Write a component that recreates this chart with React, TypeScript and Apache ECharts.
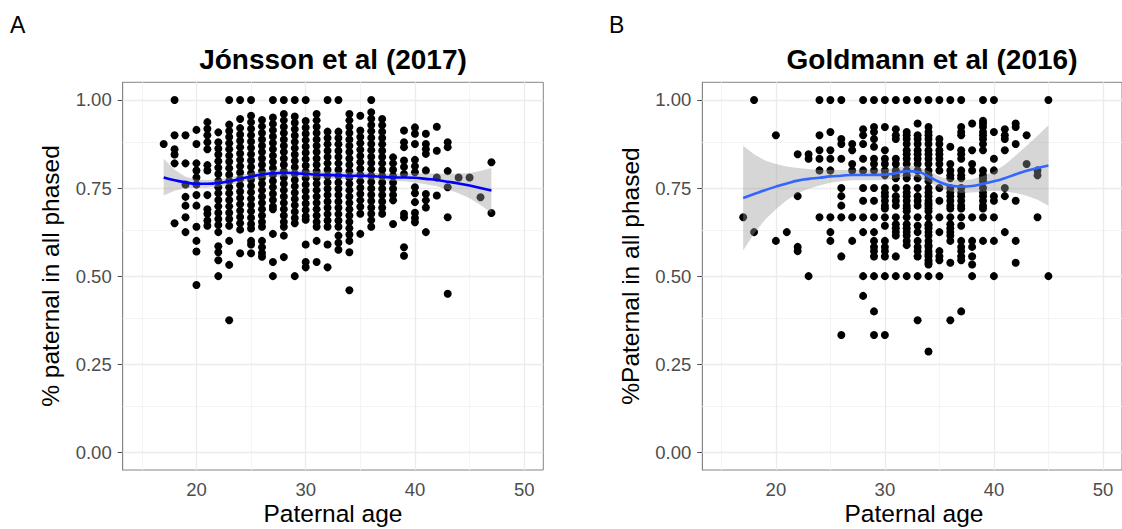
import React, { useEffect, useRef } from 'react';
import * as echarts from 'echarts';

const FONT = '"Liberation Sans", Arial, Helvetica, sans-serif';

// ---- axis ticks / grid ----
const xTickValues = [20, 30, 40, 50];
const xMinorGrid = [15, 25, 35, 45];
const yTickValues = [0, 0.25, 0.5, 0.75, 1];
const yMinorGrid = [0.125, 0.375, 0.625, 0.875];

const panelTitles = ['Jónsson et al (2017)', 'Goldmann et al (2016)'];
const panelLetters = ['A', 'B'];
const xAxisTitle = 'Paternal age';
const yAxisTitles = ['% paternal in all phased', '%Paternal in all phased'];

// ---- Panel A: Jónsson et al (2017) ----
const jonssonAges = [17, 18, 19, 20, 21, 22, 23, 24, 25, 26, 27, 28, 29, 30, 31, 32, 33, 34, 35, 36, 37, 38, 39, 40, 41, 42, 43, 44, 45, 46, 47];
const jonssonValues: number[][] = [
  [0.875],
  [1.0, 0.9, 0.86, 0.845, 0.82, 0.65],
  [0.9, 0.82, 0.76, 0.725, 0.7, 0.667, 0.625],
  [0.915, 0.875, 0.82, 0.8, 0.78, 0.76, 0.73, 0.7, 0.64, 0.6, 0.57, 0.475],
  [0.937, 0.918, 0.9, 0.88, 0.86, 0.815, 0.8, 0.73, 0.69, 0.677, 0.658, 0.643],
  [0.908, 0.88, 0.862, 0.845, 0.826, 0.808, 0.79, 0.77, 0.752, 0.735, 0.716, 0.698, 0.68, 0.662, 0.645, 0.625, 0.585, 0.568, 0.545, 0.5],
  [1.0, 0.93, 0.912, 0.895, 0.877, 0.86, 0.842, 0.825, 0.806, 0.788, 0.77, 0.752, 0.735, 0.716, 0.698, 0.68, 0.662, 0.643, 0.6, 0.532, 0.375],
  [1.0, 0.946, 0.92, 0.902, 0.884, 0.866, 0.848, 0.83, 0.812, 0.794, 0.776, 0.758, 0.74, 0.722, 0.704, 0.686, 0.668, 0.65, 0.632, 0.565],
  [1.0, 0.955, 0.937, 0.918, 0.9, 0.882, 0.864, 0.846, 0.828, 0.81, 0.792, 0.774, 0.756, 0.738, 0.72, 0.702, 0.684, 0.666, 0.648, 0.635, 0.6, 0.59, 0.565],
  [0.943, 0.925, 0.906, 0.888, 0.87, 0.852, 0.834, 0.816, 0.798, 0.78, 0.762, 0.744, 0.726, 0.708, 0.69, 0.672, 0.654, 0.64, 0.6, 0.582, 0.566, 0.555],
  [1.0, 0.95, 0.932, 0.914, 0.896, 0.878, 0.86, 0.842, 0.824, 0.806, 0.788, 0.77, 0.752, 0.734, 0.716, 0.698, 0.69, 0.62, 0.54, 0.5],
  [1.0, 0.96, 0.942, 0.924, 0.906, 0.888, 0.87, 0.852, 0.834, 0.816, 0.798, 0.78, 0.762, 0.744, 0.726, 0.708, 0.69, 0.672, 0.654, 0.64, 0.615, 0.554],
  [1.0, 0.953, 0.935, 0.917, 0.899, 0.881, 0.863, 0.845, 0.827, 0.809, 0.791, 0.773, 0.755, 0.737, 0.719, 0.701, 0.683, 0.665, 0.65, 0.5],
  [1.0, 0.94, 0.922, 0.904, 0.886, 0.868, 0.85, 0.832, 0.814, 0.796, 0.778, 0.76, 0.742, 0.724, 0.706, 0.688, 0.67, 0.66, 0.59, 0.54, 0.525],
  [0.96, 0.942, 0.924, 0.906, 0.888, 0.87, 0.852, 0.834, 0.816, 0.798, 0.78, 0.762, 0.744, 0.726, 0.708, 0.69, 0.672, 0.654, 0.64, 0.6, 0.54],
  [1.0, 0.91, 0.892, 0.874, 0.856, 0.838, 0.82, 0.802, 0.784, 0.766, 0.748, 0.73, 0.712, 0.694, 0.676, 0.658, 0.64, 0.59, 0.525],
  [1.0, 0.91, 0.892, 0.874, 0.856, 0.838, 0.82, 0.802, 0.784, 0.766, 0.748, 0.73, 0.712, 0.694, 0.676, 0.658, 0.64, 0.615, 0.595, 0.575],
  [0.96, 0.942, 0.924, 0.906, 0.888, 0.87, 0.852, 0.834, 0.816, 0.798, 0.78, 0.762, 0.744, 0.726, 0.708, 0.69, 0.672, 0.654, 0.636, 0.618, 0.6, 0.568, 0.46],
  [0.955, 0.913, 0.895, 0.877, 0.859, 0.841, 0.823, 0.805, 0.787, 0.769, 0.751, 0.733, 0.715, 0.697, 0.677, 0.62],
  [1.0, 0.965, 0.947, 0.929, 0.911, 0.893, 0.875, 0.857, 0.839, 0.821, 0.803, 0.785, 0.767, 0.749, 0.731, 0.713, 0.695, 0.677, 0.659, 0.64],
  [0.946, 0.928, 0.91, 0.892, 0.874, 0.856, 0.838, 0.82, 0.802, 0.784, 0.766, 0.748, 0.73, 0.712, 0.694, 0.677],
  [0.837, 0.82, 0.802, 0.784, 0.766, 0.748, 0.73, 0.715, 0.648],
  [0.913, 0.88, 0.866, 0.828, 0.81, 0.79, 0.677, 0.667, 0.582, 0.558],
  [0.922, 0.904, 0.875, 0.83, 0.812, 0.795, 0.752, 0.735, 0.71, 0.68, 0.665, 0.653],
  [0.904, 0.875, 0.86, 0.847, 0.8, 0.733, 0.715, 0.695, 0.625],
  [0.924, 0.856, 0.78, 0.729],
  [0.88, 0.866, 0.798, 0.752, 0.667, 0.45],
  [0.78],
  [0.78],
  [0.724],
  [0.823, 0.679],
];
const jonssonFitAges = [17, 18, 19, 20, 21, 22, 23, 24, 25, 26, 27, 28, 29, 30, 31, 32, 33, 34, 35, 36, 37, 38, 39, 40, 41, 42, 43, 44, 45, 46, 47];
const jonssonFit = [0.78, 0.772, 0.766, 0.762, 0.762, 0.764, 0.769, 0.776, 0.783, 0.788, 0.792, 0.793, 0.792, 0.79, 0.788, 0.787, 0.786, 0.785, 0.785, 0.784, 0.782, 0.78, 0.78, 0.779, 0.776, 0.773, 0.768, 0.763, 0.757, 0.75, 0.743];
const jonssonLo = [0.729, 0.742, 0.75, 0.75, 0.751, 0.754, 0.759, 0.766, 0.773, 0.778, 0.782, 0.783, 0.782, 0.78, 0.778, 0.777, 0.776, 0.775, 0.775, 0.774, 0.772, 0.77, 0.769, 0.766, 0.761, 0.755, 0.746, 0.735, 0.721, 0.702, 0.679];
const jonssonHi = [0.833, 0.802, 0.782, 0.774, 0.773, 0.774, 0.779, 0.786, 0.793, 0.798, 0.802, 0.803, 0.802, 0.8, 0.798, 0.797, 0.796, 0.795, 0.795, 0.794, 0.792, 0.79, 0.791, 0.792, 0.791, 0.791, 0.79, 0.791, 0.793, 0.798, 0.807];

// ---- Panel B: Goldmann et al (2016) ----
const goldmannAges = [17, 18, 20, 21, 22, 23, 24, 25, 26, 27, 28, 29, 30, 31, 32, 33, 34, 35, 36, 37, 38, 39, 40, 41, 42, 43, 44, 45];
const goldmannValues: number[][] = [
  [0.667],
  [1.0, 0.625],
  [0.9, 0.6],
  [0.625],
  [0.846, 0.727, 0.583, 0.571],
  [0.846, 0.833, 0.5],
  [1.0, 0.9, 0.857, 0.833, 0.8, 0.667],
  [1.0, 0.909, 0.857, 0.833, 0.8, 0.667, 0.625, 0.6],
  [1.0, 0.889, 0.875, 0.833, 0.75, 0.727, 0.7, 0.667, 0.556, 0.333],
  [0.875, 0.857, 0.818, 0.8, 0.667, 0.6],
  [1.0, 0.917, 0.9, 0.875, 0.833, 0.8, 0.75, 0.714, 0.667, 0.625, 0.5, 0.444],
  [1.0, 0.923, 0.909, 0.889, 0.867, 0.833, 0.818, 0.8, 0.75, 0.714, 0.667, 0.625, 0.6, 0.583, 0.571, 0.556, 0.5, 0.4, 0.333],
  [1.0, 0.923, 0.857, 0.833, 0.818, 0.8, 0.786, 0.75, 0.737, 0.727, 0.714, 0.7, 0.692, 0.667, 0.643, 0.6, 0.583, 0.571, 0.556, 0.5, 0.333],
  [1.0, 0.917, 0.9, 0.889, 0.833, 0.818, 0.8, 0.786, 0.778, 0.75, 0.727, 0.714, 0.7, 0.667, 0.647, 0.636, 0.625, 0.615, 0.556, 0.5],
  [1.0, 0.909, 0.9, 0.889, 0.875, 0.857, 0.846, 0.833, 0.818, 0.8, 0.786, 0.778, 0.75, 0.737, 0.727, 0.714, 0.7, 0.692, 0.684, 0.667, 0.647, 0.636, 0.625, 0.615, 0.6, 0.588, 0.5],
  [1.0, 0.933, 0.9, 0.889, 0.875, 0.857, 0.846, 0.833, 0.818, 0.8, 0.778, 0.75, 0.727, 0.714, 0.7, 0.667, 0.643, 0.625, 0.6, 0.583, 0.571, 0.556, 0.5, 0.375],
  [1.0, 0.923, 0.909, 0.9, 0.889, 0.875, 0.857, 0.846, 0.833, 0.818, 0.8, 0.786, 0.778, 0.769, 0.75, 0.737, 0.727, 0.714, 0.706, 0.7, 0.692, 0.684, 0.667, 0.647, 0.643, 0.636, 0.625, 0.615, 0.6, 0.588, 0.583, 0.571, 0.563, 0.556, 0.545, 0.538, 0.533, 0.5, 0.286],
  [1.0, 0.889, 0.875, 0.857, 0.846, 0.833, 0.818, 0.8, 0.75, 0.714, 0.667, 0.625, 0.571, 0.556, 0.545, 0.5],
  [1.0, 0.867, 0.818, 0.8, 0.786, 0.778, 0.75, 0.737, 0.727, 0.714, 0.7, 0.692, 0.667, 0.647, 0.636, 0.625, 0.615, 0.6, 0.538, 0.375],
  [1.0, 0.923, 0.909, 0.9, 0.857, 0.846, 0.833, 0.8, 0.786, 0.778, 0.75, 0.737, 0.727, 0.714, 0.7, 0.692, 0.667, 0.643, 0.6, 0.583, 0.571, 0.556, 0.545, 0.4],
  [0.933, 0.857, 0.818, 0.8, 0.667, 0.6, 0.583, 0.556, 0.533, 0.5],
  [1.0, 0.941, 0.933, 0.923, 0.909, 0.9, 0.889, 0.875, 0.857, 0.8, 0.786, 0.778, 0.769, 0.75, 0.737, 0.727, 0.714, 0.7, 0.692, 0.667, 0.6],
  [1.0, 0.909, 0.833, 0.8, 0.727, 0.714, 0.667, 0.6, 0.5],
  [0.917, 0.9, 0.889, 0.857, 0.75, 0.727, 0.625],
  [0.933, 0.923, 0.875, 0.714, 0.6, 0.538],
  [0.9, 0.818],
  [0.8, 0.786, 0.667],
  [1.0, 0.5],
];
const goldmannFitAges = [17, 18, 19, 20, 21, 22, 23, 24, 25, 26, 27, 28, 29, 30, 31, 32, 33, 34, 35, 36, 37, 38, 39, 40, 41, 42, 43, 44, 45];
const goldmannFit = [0.722, 0.733, 0.744, 0.754, 0.763, 0.771, 0.776, 0.779, 0.783, 0.785, 0.787, 0.787, 0.787, 0.788, 0.792, 0.798, 0.796, 0.783, 0.767, 0.757, 0.754, 0.756, 0.762, 0.769, 0.778, 0.789, 0.799, 0.807, 0.814];
const goldmannLo = [0.573, 0.62, 0.66, 0.69, 0.715, 0.735, 0.748, 0.757, 0.765, 0.769, 0.772, 0.772, 0.772, 0.773, 0.777, 0.783, 0.781, 0.768, 0.751, 0.74, 0.736, 0.737, 0.74, 0.742, 0.74, 0.736, 0.728, 0.717, 0.7];
const goldmannHi = [0.87, 0.846, 0.828, 0.818, 0.811, 0.807, 0.804, 0.801, 0.801, 0.801, 0.802, 0.802, 0.802, 0.803, 0.807, 0.813, 0.811, 0.798, 0.783, 0.774, 0.772, 0.775, 0.784, 0.796, 0.816, 0.842, 0.87, 0.898, 0.928];

const panelColors = ['#0000ff', '#3366ff'];

const toPoints = (ages: number[], values: number[][]) =>
  ages.flatMap((a, i) => values[i].map((v) => [a, v]));

const majorStyle = { color: '#ebebeb', width: 1.3, type: 'solid' };
const minorStyle = { color: '#f4f4f4', width: 1, type: 'solid' };

const gridLineData = [
  ...xMinorGrid.map((v) => ({ xAxis: v, lineStyle: minorStyle })),
  ...yMinorGrid.map((v) => ({ yAxis: v, lineStyle: minorStyle })),
  ...xTickValues.map((v) => ({ xAxis: v, lineStyle: majorStyle })),
  ...yTickValues.map((v) => ({ yAxis: v, lineStyle: majorStyle })),
];

function panelSeries(idx: number, points: number[][], fitX: number[], fit: number[], lo: number[], hi: number[]) {
  return [
    {
      type: 'scatter',
      xAxisIndex: idx,
      yAxisIndex: idx,
      data: points,
      symbol: 'circle',
      symbolSize: 8,
      itemStyle: { color: '#000000', opacity: 1 },
      z: 2,
      silent: true,
      markLine: {
        silent: true,
        symbol: ['none', 'none'],
        label: { show: false },
        z: 1,
        lineStyle: { type: 'solid' },
        emphasis: { disabled: true },
        data: gridLineData,
      },
    },
    {
      type: 'custom',
      xAxisIndex: idx,
      yAxisIndex: idx,
      data: fitX.map((x, i) => [x, lo[i], hi[i]]),
      encode: { x: 0, y: [1, 2] },
      z: 3,
      silent: true,
      renderItem: (params: any, api: any) => {
        if (params.dataIndex !== 0) return null;
        const upper = fitX.map((x, i) => api.coord([x, hi[i]]));
        const lower = fitX.map((x, i) => api.coord([x, lo[i]])).reverse();
        return {
          type: 'polygon',
          shape: { points: upper.concat(lower) },
          style: { fill: 'rgba(153,153,153,0.4)', stroke: 'none' },
        };
      },
    },
    {
      type: 'line',
      xAxisIndex: idx,
      yAxisIndex: idx,
      data: fitX.map((x, i) => [x, fit[i]]),
      smooth: true,
      symbol: 'none',
      lineStyle: { color: panelColors[idx], width: 2.6 },
      z: 4,
      silent: true,
    },
  ];
}

const makeX = (idx: number) => ({
  type: 'value',
  gridIndex: idx,
  min: 13.25,
  max: 51.75,
  axisLine: { show: true, lineStyle: { color: '#858585', width: 1 } },
  splitLine: { show: false },
  axisTick: { show: true, length: 5, inside: false, customValues: xTickValues, lineStyle: { color: '#4d4d4d', width: 1 } },
  axisLabel: {
    customValues: xTickValues,
    margin: 9.5,
    color: '#4d4d4d',
    fontSize: 18.5,
    fontFamily: FONT,
  },
});

const makeY = (idx: number) => ({
  type: 'value',
  gridIndex: idx,
  min: -0.05,
  max: 1.05,
  axisLine: { show: true, lineStyle: { color: '#858585', width: 1 } },
  splitLine: { show: false },
  axisTick: { show: true, length: 5, inside: false, customValues: yTickValues, lineStyle: { color: '#4d4d4d', width: 1 } },
  axisLabel: {
    customValues: yTickValues,
    margin: 11,
    color: '#4d4d4d',
    fontSize: 18.5,
    fontFamily: FONT,
    formatter: (v: number) => v.toFixed(2),
  },
});

const gridBoxes = [
  { left: 122.7, top: 82.3, width: 420.6, height: 387.7 },
  { left: 702.3, top: 82.3, width: 422.7, height: 387.7 },
];

const titleCenters = [333, 932];
const xTitleCenters = [333, 914];
const yTitleCenters = [50, 630];
const letterLefts = [10, 609];

export default function App() {
  const ref = useRef<HTMLDivElement>(null);
  useEffect(() => {
    document.body.style.margin = '0';
    if (!ref.current) return;
    const chart = echarts.init(ref.current, undefined, { renderer: 'svg' });
    const graphic: any[] = [];
    [0, 1].forEach((i) => {
      graphic.push({
        type: 'text', x: letterLefts[i], y: 24.5,
        style: { text: panelLetters[i], font: `23px ${FONT}`, fill: '#000', textAlign: 'left', textVerticalAlign: 'middle' },
      });
      graphic.push({
        type: 'text', x: titleCenters[i], y: 59,
        style: { text: panelTitles[i], font: `bold 28px ${FONT}`, fill: '#000', textAlign: 'center', textVerticalAlign: 'middle' },
      });
      graphic.push({
        type: 'text', x: xTitleCenters[i], y: 513.5,
        style: { text: xAxisTitle, font: `24.5px ${FONT}`, fill: '#000', textAlign: 'center', textVerticalAlign: 'middle' },
      });
      graphic.push({
        type: 'text', x: yTitleCenters[i], y: 276, rotation: Math.PI / 2,
        style: { text: yAxisTitles[i], font: `24.5px ${FONT}`, fill: '#000', textAlign: 'center', textVerticalAlign: 'middle' },
      });
    });
    chart.setOption({
      animation: false,
      backgroundColor: '#ffffff',
      grid: gridBoxes.map((g) => ({ ...g, show: true, borderColor: '#858585', borderWidth: 1, backgroundColor: 'transparent', containLabel: false })),
      xAxis: [makeX(0), makeX(1)],
      yAxis: [makeY(0), makeY(1)],
      series: [
        ...panelSeries(0, toPoints(jonssonAges, jonssonValues), jonssonFitAges, jonssonFit, jonssonLo, jonssonHi),
        ...panelSeries(1, toPoints(goldmannAges, goldmannValues), goldmannFitAges, goldmannFit, goldmannLo, goldmannHi),
      ],
      graphic,
    });
    return () => chart.dispose();
  }, []);
  return <div ref={ref} style={{ position: 'absolute', left: 0, top: 0, width: 1122, height: 529 }} />;
}
